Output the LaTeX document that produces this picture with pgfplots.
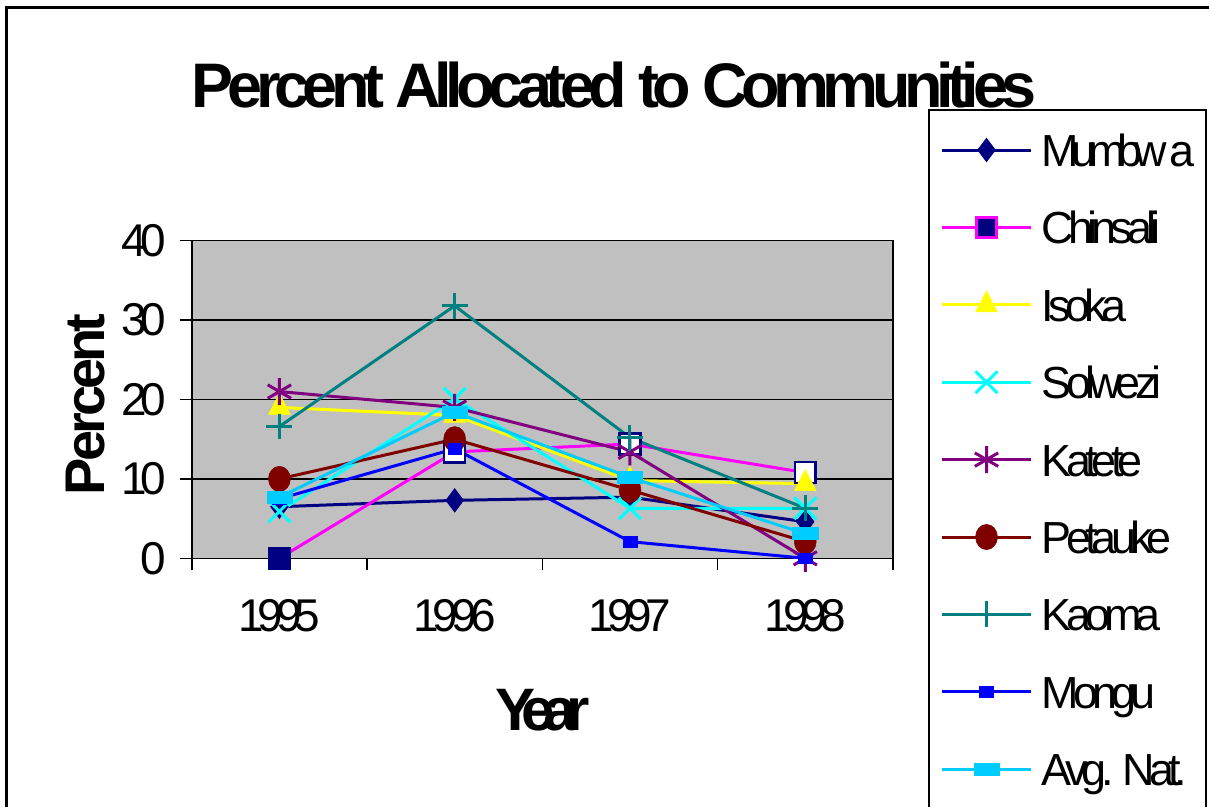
\documentclass[border=0pt]{standalone}
\usepackage{pgfplots}
\pgfplotsset{compat=1.18}
\usepackage{fontspec}
\setmainfont{Liberation Sans}
\newfontfamily\titlefam{Liberation Sans}[LetterSpace=-10.2]
\newfontfamily\tickfam{Liberation Sans}[LetterSpace=-14.5]
\newfontfamily\yearfam{Liberation Sans}[LetterSpace=-18]
\newfontfamily\pctfam{Liberation Sans}[LetterSpace=-7]
\newfontfamily\legfam{Liberation Sans}[LetterSpace=-13]
\newfontfamily\legtightfam{Liberation Sans}[LetterSpace=-18]

\definecolor{cNavy}{HTML}{000080}
\definecolor{cMagenta}{HTML}{FF00FF}
\definecolor{cYellow}{HTML}{FFFF00}
\definecolor{cCyan}{HTML}{00FFFF}
\definecolor{cPurple}{HTML}{800080}
\definecolor{cMaroon}{HTML}{800000}
\definecolor{cTeal}{HTML}{008080}
\definecolor{cBlue}{HTML}{0000FF}
\definecolor{cSky}{HTML}{00CCFF}
\definecolor{cPlot}{HTML}{C0C0C0}

\begin{document}
\begin{tikzpicture}
\path (0,0) rectangle (1210pt,808pt);
% chart frame
\draw[line width=3pt] (7pt,0pt) -- (7pt,800pt) -- (1210pt,800pt);
% title
\node[font={\titlefam\bfseries\fontsize{63}{70}\selectfont}, inner sep=0pt] at (615pt,723pt) {Percent Allocated to Communities};
% legend frame
\draw[line width=2pt, fill=white] (1207pt,0pt) -- (1207pt,698pt) -- (930pt,698pt) -- (930pt,0pt);

\begin{axis}[
  at={(192pt,249pt)}, anchor=south west,
  scale only axis, width=702pt, height=318pt,
  xmin=0.5, xmax=4.5, ymin=0, ymax=40,
  axis background/.style={fill=cPlot},
  axis line style={line width=1.5pt, black},
  xtick={0.5,1.5,2.5,3.5,4.5}, xticklabels={},
  extra x ticks={1,2,3,4},
  extra x tick labels={1995,1996,1997,1998},
  extra x tick style={major tick length=0pt, grid=none,
     tick label style={yshift=-38pt}},
  ytick={0,10,20,30,40},
  ymajorgrids,
  major grid style={line width=1.5pt, black},
  tick align=outside, major tick length=12pt,
  tick style={line width=1.5pt, black},
  xtick pos=bottom, ytick pos=left,
  /pgf/number format/assume math mode=true,
  tick label style={font={\tickfam\fontsize{46}{50}\selectfont}},
  yticklabel style={xshift=-10pt},
  xlabel={Year}, ylabel={Percent},
  every axis x label/.style={at={(axis description cs:0.5,-0.478)}, anchor=center,
     font={\yearfam\bfseries\fontsize{60}{66}\selectfont}},
  every axis y label/.style={at={(axis description cs:-0.152,0.484)}, anchor=center, rotate=90,
     font={\pctfam\bfseries\fontsize{56}{62}\selectfont}},
  legend style={at={(axis description cs:1.0670,1.3381)}, anchor=north west,
     draw=none, fill=none, inner sep=0pt, row sep=44.5pt, column sep=9pt,
     font={\legfam\fontsize{45}{50}\selectfont},
     nodes={inner sep=0pt, text height=33pt, text depth=0pt}},
  legend cell align=left,
  legend image code/.code={\draw[mark repeat=2, mark phase=2, #1]
     plot coordinates {(0pt,0pt) (45pt,0pt) (90pt,0pt)};},
  every axis plot/.append style={line width=3pt},
]
% Mumbwa
\addplot[cNavy, mark=diamond*, mark size=11.5pt, mark options={fill=cNavy, line width=1pt}]
  coordinates {(1,6.5) (2,7.3) (3,7.7) (4,4.6)};
\addlegendentry{\legtightfam Mumbw\hspace{3pt}a}
% Chinsali
\addplot[cMagenta, mark=square*, mark size=10.5pt, mark options={draw=cNavy, fill=white, line width=2.5pt}, forget plot]
  coordinates {(1,0) (2,13.4) (3,14.4) (4,10.8)};
\addplot[only marks, mark=square*, mark size=10.5pt, mark options={draw=cNavy, fill=cNavy, line width=2pt}, forget plot]
  coordinates {(1,0)};
\addlegendimage{cMagenta, line width=3pt, mark=square*, mark size=10pt, mark options={draw=cMagenta, fill=cNavy, line width=2.5pt}}
\addlegendentry{Chinsali}
% Isoka
\addplot[cYellow, mark=triangle*, mark size=14pt, mark options={fill=cYellow, line width=0.5pt, xscale=0.9}]
  coordinates {(1,19) (2,18) (3,9.8) (4,9.4)};
\addlegendentry{Isoka}
% Solwezi
\addplot[cCyan, mark=x, mark size=15.5pt, mark options={line width=3pt}]
  coordinates {(1,5.9) (2,20.1) (3,6.3) (4,6.3)};
\addlegendentry{Solwezi}
% Katete
\addplot[cPurple, mark=asterisk, mark size=13.5pt, mark options={line width=3pt}]
  coordinates {(1,21) (2,19) (3,13.4) (4,0)};
\addlegendentry{Katete}
% Petauke
\addplot[cMaroon, mark=*, mark size=11pt, mark options={fill=cMaroon, yscale=1.15, line width=0.5pt}]
  coordinates {(1,10) (2,15) (3,8.6) (4,2.1)};
\addlegendentry{Petauke}
% Kaoma
\addplot[cTeal, mark=+, mark size=13pt, mark options={line width=3pt}]
  coordinates {(1,16.6) (2,31.8) (3,15.2) (4,6.3)};
\addlegendentry{Kaoma}
% Mongu
\addplot[cBlue, mark=square*, mark size=6pt, mark options={fill=cBlue, xscale=1.15, yscale=0.9, line width=0.5pt}]
  coordinates {(1,7.5) (2,13.8) (3,2.1) (4,0)};
\addlegendentry{Mongu}
% Avg. Nat.
\addplot[cSky, mark=square*, mark size=6pt, mark options={fill=cSky, xscale=2.1, line width=0.5pt}]
  coordinates {(1,7.7) (2,18.4) (3,10.2) (4,3.1)};
\addlegendentry{Avg. Nat.}
\end{axis}
\end{tikzpicture}
\end{document}
